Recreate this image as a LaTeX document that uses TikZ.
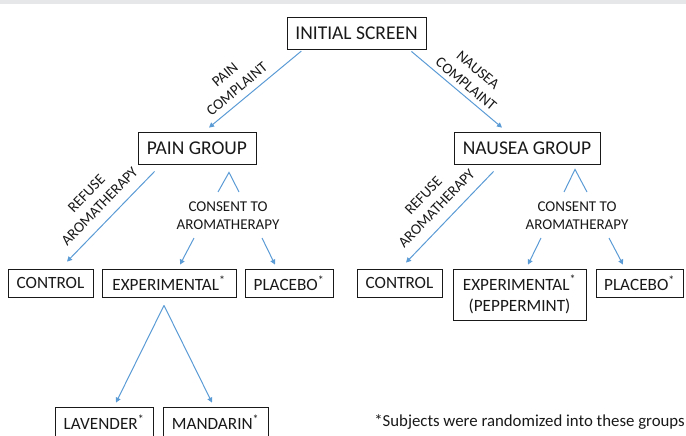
\documentclass[tikz,border=0pt]{standalone}
\usepackage{fontspec}
\setmainfont{Carlito}
\usetikzlibrary{arrows.meta,calc}
\definecolor{arrowblue}{RGB}{91,155,213}
\definecolor{band}{RGB}{230,231,233}
\definecolor{ink}{RGB}{25,25,25}
\begin{document}
\begin{tikzpicture}[x=1pt,y=-1pt,
  bigbox/.style={draw=ink,line width=0.8pt,inner sep=0pt,minimum height=32pt,text=ink,font=\fontsize{19.5}{22}\selectfont},
  smallbox/.style={draw=ink,line width=0.8pt,inner sep=0pt,minimum height=28pt,text=ink,align=center,font=\fontsize{17.2}{21}\selectfont},
  lbl/.style={text=ink,align=center,inner sep=0pt,font=\fontsize{15}{18.5}\selectfont},
  conn/.style={draw=arrowblue,line width=1pt},
  arr/.style={conn,-{Triangle[length=5pt,width=5pt]}}]
\useasboundingbox (0,0) rectangle (686,436);
\fill[band] (0,0) rectangle (686,4);
% boxes
\node[bigbox,minimum width=139pt] (init) at (356.5,33) {INITIAL SCREEN};
\node[bigbox,minimum width=118pt] (pain) at (197,148) {PAIN GROUP};
\node[bigbox,minimum width=146pt] (nausea) at (527,148) {NAUSEA GROUP};
\node[smallbox,minimum width=85pt] (ctrlA) at (50.5,283) {CONTROL};
\node[smallbox,minimum width=134pt] (expA) at (169,283) {EXPERIMENTAL\textsuperscript{*}};
\node[smallbox,minimum width=88pt] (placA) at (289,283) {PLACEBO\textsuperscript{*}};
\node[smallbox,minimum width=85pt] (ctrlB) at (399.5,283) {CONTROL};
\node[smallbox,minimum width=133pt,minimum height=51pt] (expB) at (519.5,294.5) {EXPERIMENTAL\textsuperscript{*}\\(PEPPERMINT)};
\node[smallbox,minimum width=87pt] (placB) at (639.5,283) {PLACEBO\textsuperscript{*}};
\node[smallbox,minimum width=98pt,minimum height=30pt] (lav) at (104,422) {LAVENDER\textsuperscript{*}};
\node[smallbox,minimum width=105pt,minimum height=30pt] (mand) at (215.5,422) {MANDARIN\textsuperscript{*}};
% labels
\node[lbl,rotate=40] (painlbl) at (231,82) {PAIN\\COMPLAINT};
\node[lbl,rotate=-40] (nauslbl) at (472,77) {NAUSEA\\COMPLAINT};
\node[lbl,rotate=46] (refA) at (93,200) {REFUSE\\AROMATHERAPY};
\node[lbl,rotate=46] (refB) at (430,202) {REFUSE\\AROMATHERAPY};
\node[lbl] (consA) at (228,215.5) {CONSENT TO\\AROMATHERAPY};
\node[lbl] (consB) at (577,215.5) {CONSENT TO\\AROMATHERAPY};
\node[text=ink,inner sep=0pt,font=\fontsize{16.8}{19}\selectfont,anchor=east] (note) at (685,422) {*Subjects were randomized into these groups};
% connectors
\draw[arr] ([xshift=14.7pt,yshift=-1.7pt]init.south west) -- ([xshift=12pt,yshift=4pt]pain.north);
\draw[arr] ([xshift=-15pt,yshift=-2pt]init.south east) -- ([xshift=-25pt,yshift=4pt]nausea.north);
\draw[arr] ([xshift=17pt,yshift=-7pt]pain.south west) -- ([xshift=16.5pt,yshift=7pt]ctrlA.north);
\draw[arr] ([xshift=40pt,yshift=-7pt]nausea.south west) -- ([xshift=6.5pt,yshift=6pt]ctrlB.north);
% consent carets
\draw[conn] ($(consA.center)+(-10,-23.5)$) -- ([xshift=32pt,yshift=-8pt]pain.south) -- ($(consA.center)+(11,-23.5)$);
\draw[conn] ($(consB.center)+(-13,-23.5)$) -- ([xshift=48pt,yshift=-5pt]nausea.south) -- ($(consB.center)+(10,-23.5)$);
% consent arrows
\draw[arr] ($(consA.center)+(-34,22.5)$) -- ([xshift=11pt,yshift=4pt]expA.north);
\draw[arr] ($(consA.center)+(34,22.5)$) -- ([xshift=-14pt,yshift=4pt]placA.north);
\draw[arr] ($(consB.center)+(-36,22.5)$) -- ([xshift=8.5pt,yshift=4pt]expB.north);
\draw[arr] ($(consB.center)+(32,22.5)$) -- ([xshift=-16.5pt,yshift=4pt]placB.north);
% experimental split
\coordinate (apex) at ([xshift=-5pt,yshift=-8pt]expA.south);
\draw[arr] (apex) -- ([xshift=12pt,yshift=4pt]lav.north);
\draw[arr] (apex) -- ([xshift=-3.5pt,yshift=4pt]mand.north);
\end{tikzpicture}
\end{document}
